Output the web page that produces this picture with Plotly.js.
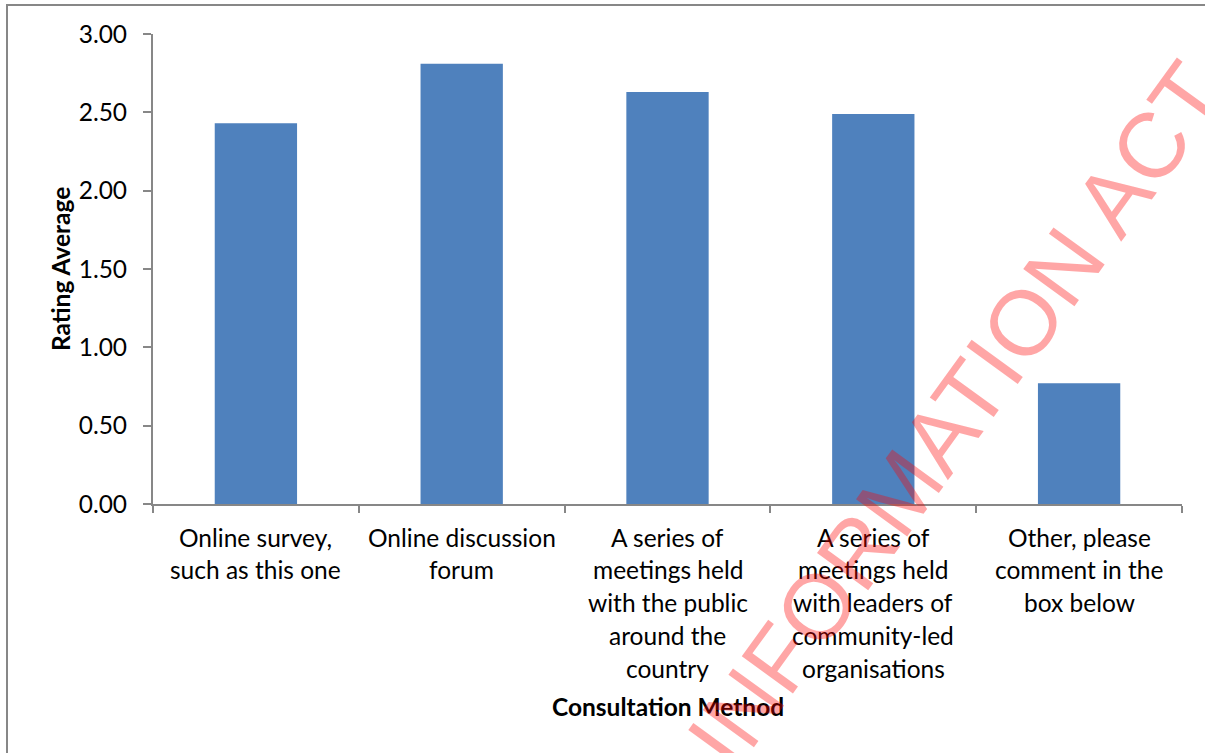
<!DOCTYPE html>
<html>
<head>
<meta charset="utf-8">
<script src="https://cdn.plot.ly/plotly-3.0.1.min.js"></script>
<style>
  html, body { margin: 0; padding: 0; overflow: hidden; background: #fff; }
  #wrap { position: relative; width: 1205px; height: 753px; overflow: hidden; }
  #chart { position: absolute; left: 0; top: 0; width: 1205px; height: 753px; }
  #frame { position: absolute; left: 6px; top: 4px; width: 1400px; height: 1000px;
           border: 2px solid #878787; box-sizing: border-box; pointer-events: none; }
</style>
</head>
<body>
<div id="wrap">
  <div id="chart"></div>
  <div id="frame"></div>
</div>
<script>
// ---- data ----
const categories = [
  "Online survey, such as this one",
  "Online discussion forum",
  "A series of meetings held with the public around the country",
  "A series of meetings held with leaders of community-led organisations",
  "Other, please comment in the box below"
];
const categoryLines = [
  ["Online survey,", "such as this one"],
  ["Online discussion", "forum"],
  ["A series of", "meetings held", "with the public", "around the", "country"],
  ["A series of", "meetings held", "with leaders of", "community-led", "organisations"],
  ["Other, please", "comment in the", "box below"]
];
const ratingAverage = [2.43, 2.81, 2.63, 2.49, 0.77];
const yTickVals = [0, 0.5, 1, 1.5, 2, 2.5, 3];
const yTickText = ["0.00", "0.50", "1.00", "1.50", "2.00", "2.50", "3.00"];
const xTitle = "Consultation Method";
const yTitle = "Rating Average";
const watermark = "INFORMATION ACT";

// ---- chart ----
const FONT = "Lato, Carlito, Calibri, sans-serif";
const FS = 24.5;
const annotations = [];
categoryLines.forEach((lines, i) => {
  lines.forEach((ln, j) => {
    annotations.push({
      xref: "x", yref: "paper", x: categories[i], y: 0,
      xanchor: "center", yanchor: "middle",
      yshift: -(33 + 32.8 * j),
      text: ln, showarrow: false,
      font: { family: FONT, size: FS, color: "#000" }
    });
  });
});
annotations.push({
  xref: "paper", yref: "paper", x: 0.5, y: 0, yshift: -202,
  xanchor: "center", yanchor: "middle", showarrow: false,
  text: "<b>" + xTitle + "</b>",
  font: { family: FONT, size: FS, color: "#000" }
});
annotations.push({
  xref: "paper", yref: "paper", x: -0.0904, y: 0.5,
  xanchor: "center", yanchor: "middle", showarrow: false, textangle: -90,
  text: "<b>" + yTitle + "</b>",
  font: { family: FONT, size: FS, color: "#000" }
});
annotations.push({
  xref: "paper", yref: "paper", x: 0.78, y: 0.19,
  xanchor: "center", yanchor: "middle", showarrow: false, textangle: -54,
  text: watermark,
  font: { family: "Liberation Sans, Arial, sans-serif", size: 92, color: "rgba(255,0,0,0.35)" }
});

const trace = {
  type: "bar",
  x: categories,
  y: ratingAverage,
  marker: { color: "#4F81BD", line: { width: 0 } },
  hoverinfo: "none"
};

const layout = {
  width: 1205, height: 753,
  margin: { l: 153, r: 23, t: 34, b: 249 },
  paper_bgcolor: "#fff", plot_bgcolor: "#fff",
  showlegend: false,
  bargap: 0.6,
  xaxis: {
    type: "category", range: [-0.5, 4.5],
    showticklabels: false, tickson: "boundaries",
    ticks: "outside", ticklen: 7, tickwidth: 2, tickcolor: "#878787",
    showline: true, linecolor: "#878787", linewidth: 2,
    showgrid: false, zeroline: false, fixedrange: true
  },
  yaxis: {
    range: [0, 3], tickmode: "array", tickvals: yTickVals, ticktext: yTickText,
    ticks: "outside", ticklen: 8, tickwidth: 2, tickcolor: "#878787",
    ticklabelstandoff: 11,
    showline: true, linecolor: "#878787", linewidth: 2,
    showgrid: false, zeroline: false, fixedrange: true,
    tickfont: { family: FONT, size: FS, color: "#000" }
  },
  annotations: annotations
};

Plotly.newPlot("chart", [trace], layout, { displayModeBar: false, staticPlot: true });
</script>
</body>
</html>
